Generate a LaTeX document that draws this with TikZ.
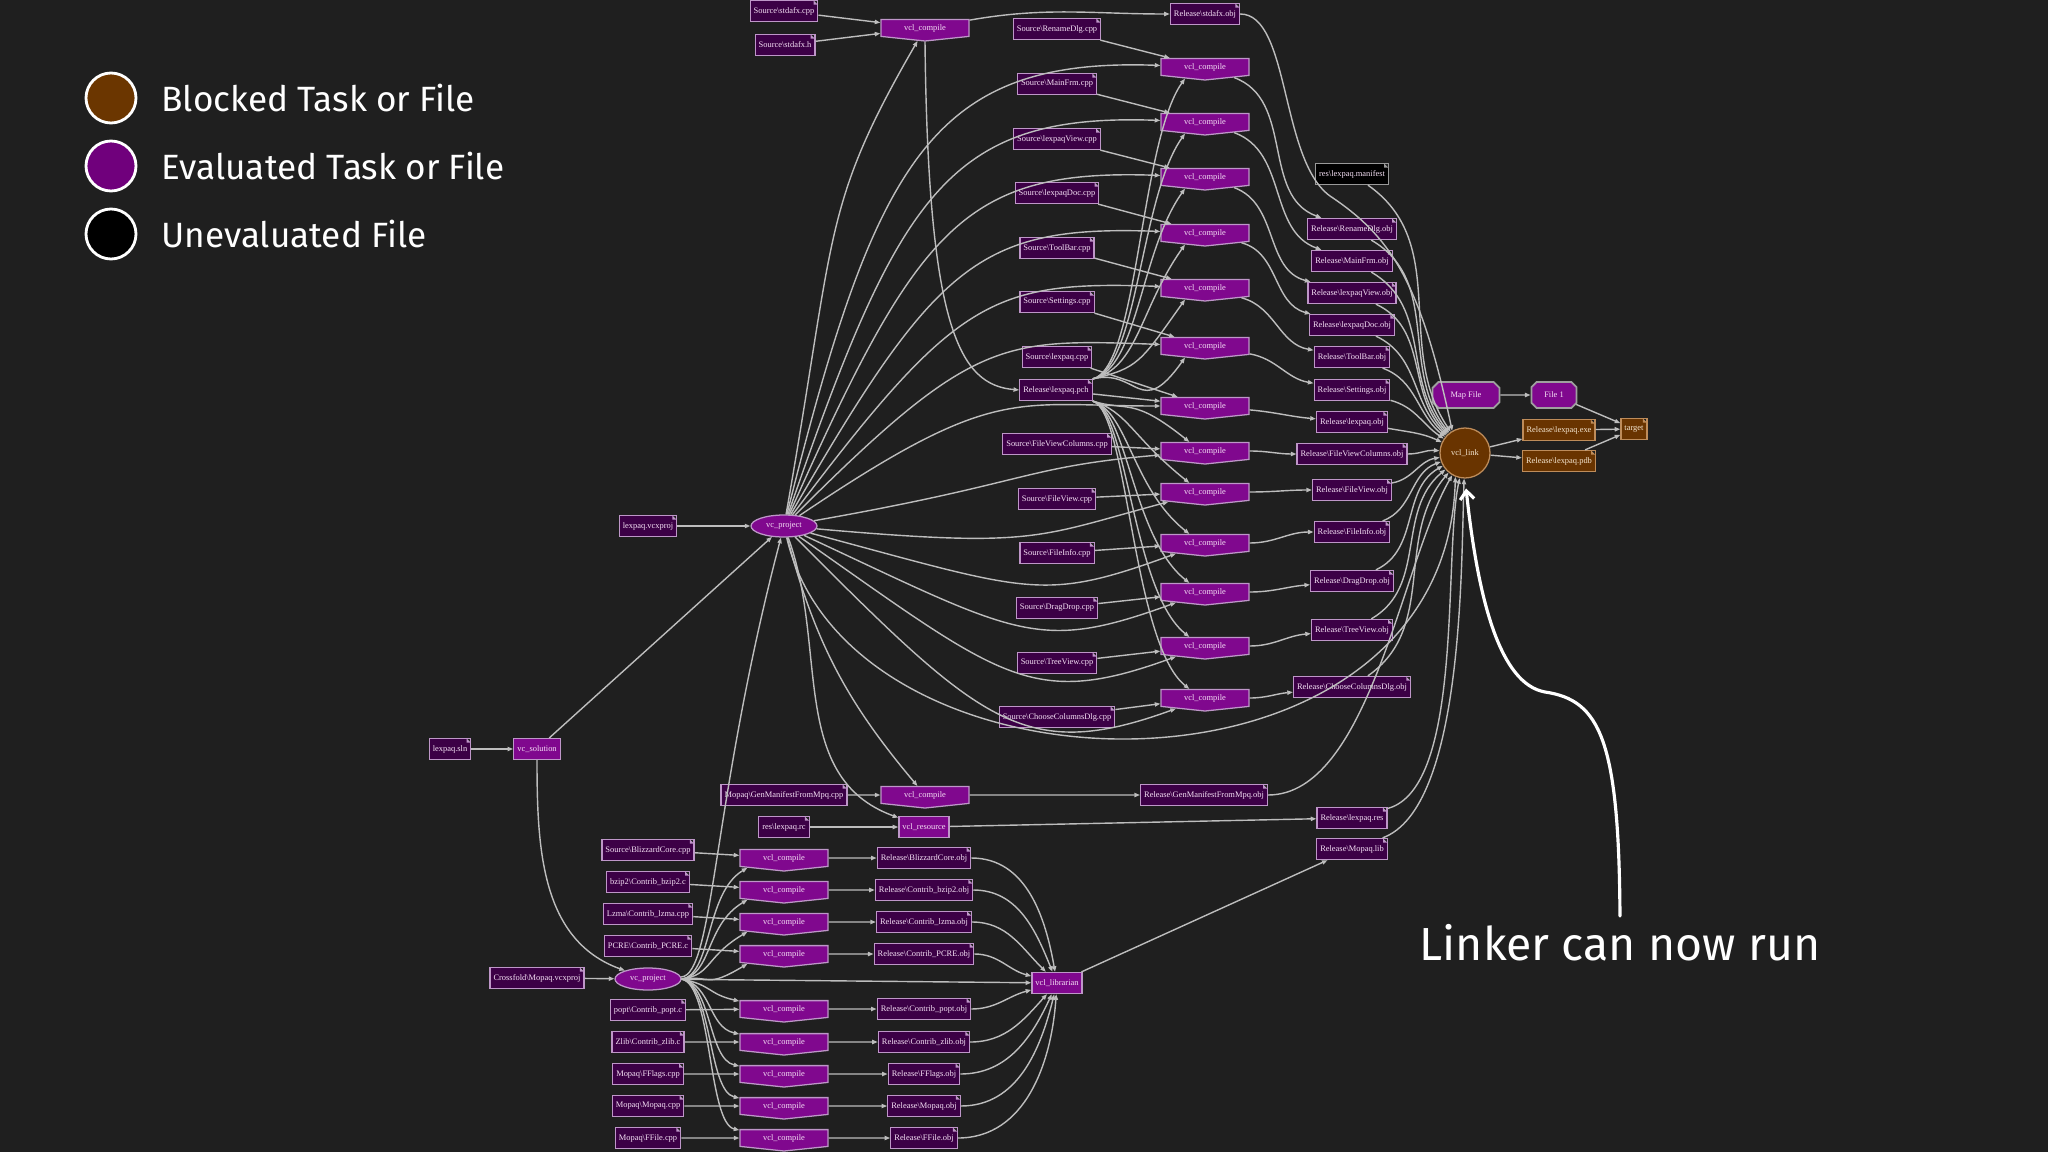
\documentclass[tikz,border=0pt]{standalone}
\usepackage{fontspec}
\setmainfont{Liberation Serif}
\newfontfamily\keyface{Fira Sans}
\usetikzlibrary{arrows.meta, positioning, shapes.geometric, shapes.symbols, shapes.misc}
\definecolor{Canvas}{HTML}{1F1F1F}
\definecolor{TaskFill}{HTML}{80088E}
\definecolor{FileFill}{HTML}{3C0046}
\definecolor{Rim}{HTML}{BE96C8}
\definecolor{Label}{HTML}{F5E0F5}
\definecolor{Blocked}{HTML}{693400}
\definecolor{BlockedRim}{HTML}{BE8C5A}
\definecolor{BlockedLabel}{HTML}{F5E6D0}
\definecolor{Wire}{HTML}{BDBDBD}
\definecolor{KeyBrown}{HTML}{6B3600}
\definecolor{KeyPurple}{HTML}{70007C}
\newcommand{\pathsep}{\textbackslash}
\newcommand{\graphfont}{\fontsize{12}{13}\selectfont}
\newcommand{\dogear}[1]{%
  \fill[Canvas] ([xshift=-6pt]path picture bounding box.north east) -- (path picture bounding box.north east) -- ([yshift=-6pt]path picture bounding box.north east) -- cycle;
  \fill[#1] ([xshift=-6pt]path picture bounding box.north east) -- ([yshift=-6pt]path picture bounding box.north east) -- ([shift={(-6pt,-6pt)}]path picture bounding box.north east) -- cycle;}

\begin{document}
\begin{tikzpicture}[x=0.05cm, y=-0.05cm,
  nodebase/.style={font=\graphfont, text=Label, line width=1.8pt, inner xsep=5pt, inner ysep=0pt, minimum height=1.05cm},
  artifact/.style={nodebase, rectangle, draw=Rim, fill=FileFill, path picture={\dogear{Rim}}},
  rawartifact/.style={artifact, fill=black, draw=gray!80, path picture={\dogear{gray!80}}},
  blockedartifact/.style={nodebase, rectangle, draw=BlockedRim, fill=Blocked, text=BlockedLabel, path picture={\dogear{BlockedRim}}},
  compiletask/.style={nodebase, shape=signal, signal to=south, signal pointer angle=168, draw=Rim, fill=TaskFill, minimum width=4.4cm, minimum height=0pt, inner ysep=6.5pt},
  plaintask/.style={nodebase, rectangle, draw=Rim, fill=TaskFill},
  projecttask/.style={nodebase, ellipse, draw=Rim, fill=TaskFill, minimum width=3.3cm, minimum height=1.1cm, inner xsep=1pt},
  octotask/.style={nodebase, chamfered rectangle, chamfered rectangle xsep=9pt, draw=gray!75, line width=2.6pt, fill=TaskFill, minimum height=1.3cm},
  linktask/.style={nodebase, circle, draw=BlockedRim, fill=Blocked, text=BlockedLabel, minimum size=2.5cm, inner sep=0pt},
  wire/.style={draw=Wire, line width=2pt, -{Triangle[length=8pt, width=6pt]}},
  keydot/.style={circle, draw=white, line width=4pt, minimum size=2.5cm, inner sep=0pt},
  keytext/.style={font=\keyface\fontsize{50}{56}\selectfont, text=white, inner sep=0pt, anchor=west},
  notetext/.style={font=\keyface\fontsize{66}{72}\selectfont, text=white, inner sep=4pt},
  notearrow/.style={draw=white, line width=4.5pt, line cap=round, -{Straight Barb[length=12pt, width=20pt]}}
]
\useasboundingbox (0,0) rectangle (2048,1152);
\fill[Canvas] (0,0) rectangle (2048,1152);

% legend
\node[keydot, fill=KeyBrown] (keyblocked) at (111,98) {};
\node[keydot, fill=KeyPurple] (keyeval) at (111,166) {};
\node[keydot, fill=black] (keyraw) at (111,234) {};
\node[keytext, right=1.2cm of keyblocked] (txtblocked) {Blocked Task or File};
\node[keytext, right=1.2cm of keyeval] (txteval) {Evaluated Task or File};
\node[keytext, right=1.2cm of keyraw] (txtraw) {Unevaluated File};

% precompiled header
\node[artifact] (stdcpp) at (784,11) {Source\pathsep{}stdafx.cpp};
\node[artifact] (stdh) at (785,45) {Source\pathsep{}stdafx.h};
\node[compiletask] (cmp0) at (925,28) {vcl\_compile};
\node[artifact] (stdobj) at (1205,14) {Release\pathsep{}stdafx.obj};
\node[artifact] (pch) at (1056,390) {Release\pathsep{}lexpaq.pch};

% lexpaq sources, compiles, objects
\foreach \i/\y/\stem in {1/29/RenameDlg, 2/84/MainFrm, 3/139/lexpaqView, 4/193/lexpaqDoc, 5/248/ToolBar, 6/302/Settings, 7/357/lexpaq, 8/444/FileViewColumns, 9/499/FileView, 10/553/FileInfo, 11/608/DragDrop, 12/663/TreeView, 13/717/ChooseColumnsDlg}
  \node[artifact] (src\i) at (1057,\y) {Source\pathsep{}\stem.cpp};
\foreach \i/\y in {1/67, 2/122, 3/177, 4/233, 5/288, 6/346, 7/406, 8/451, 9/492, 10/543, 11/592, 12/646, 13/698}
  \node[compiletask] (cmp\i) at (1205,\y) {vcl\_compile};
\foreach \i/\y/\stem in {1/229/RenameDlg, 2/261/MainFrm, 3/293/lexpaqView, 4/325/lexpaqDoc, 5/357/ToolBar, 6/390/Settings, 7/422/lexpaq, 8/454/FileViewColumns, 9/490/FileView, 10/532/FileInfo, 11/581/DragDrop, 12/630/TreeView, 13/687/ChooseColumnsDlg}
  \node[artifact] (obj\i) at (1352,\y) {Release\pathsep{}\stem.obj};
\node[rawartifact] (manifest) at (1352,174) {res\pathsep{}lexpaq.manifest};

% link and outputs
\node[linktask] (link) at (1465,453) {vcl\_link};
\node[octotask, minimum width=3.35cm] (mapfile) at (1466,395) {Map File};
\node[octotask, minimum width=2.25cm] (fileone) at (1554,395) {File 1};
\node[blockedartifact] (exe) at (1559,430) {Release\pathsep{}lexpaq.exe};
\node[blockedartifact] (pdb) at (1559,461) {Release\pathsep{}lexpaq.pdb};
\node[blockedartifact] (target) at (1634,429) {target};

% solution and projects
\node[artifact] (vcxproj) at (648,526) {lexpaq.vcxproj};
\node[projecttask] (projmain) at (784,526) {vc\_project};
\node[artifact] (sln) at (450,749) {lexpaq.sln};
\node[plaintask] (solution) at (537,749) {vc\_solution};
\node[projecttask] (projmopaq) at (648,979) {vc\_project};
\node[artifact] (mopaqproj) at (537,978) {Crossfold\pathsep{}Mopaq.vcxproj};

% manifest tool and resources
\node[artifact] (gencpp) at (784,795) {Mopaq\pathsep{}GenManifestFromMpq.cpp};
\node[compiletask] (cmpgen) at (925,795) {vcl\_compile};
\node[artifact] (genobj) at (1204,795) {Release\pathsep{}GenManifestFromMpq.obj};
\node[artifact] (rc) at (784,827) {res\pathsep{}lexpaq.rc};
\node[plaintask] (rescomp) at (924,827) {vcl\_resource};
\node[artifact] (resout) at (1352,818) {Release\pathsep{}lexpaq.res};
\node[artifact] (mopaqlib) at (1352,849) {Release\pathsep{}Mopaq.lib};
\node[plaintask] (librarian) at (1057,983) {vcl\_librarian};

% mopaq library rows
\foreach \i/\ys/\yc/\srcname/\objname in {
  1/850/858/Source\pathsep{}BlizzardCore.cpp/Release\pathsep{}BlizzardCore.obj,
  2/882/890/bzip2\pathsep{}Contrib\_bzip2.c/Release\pathsep{}Contrib\_bzip2.obj,
  3/914/922/Lzma\pathsep{}Contrib\_lzma.cpp/Release\pathsep{}Contrib\_lzma.obj,
  4/946/954/PCRE\pathsep{}Contrib\_PCRE.c/Release\pathsep{}Contrib\_PCRE.obj,
  5/1010/1009/popt\pathsep{}Contrib\_popt.c/Release\pathsep{}Contrib\_popt.obj,
  6/1042/1042/Zlib\pathsep{}Contrib\_zlib.c/Release\pathsep{}Contrib\_zlib.obj,
  7/1074/1074/Mopaq\pathsep{}FFlags.cpp/Release\pathsep{}FFlags.obj,
  8/1106/1106/Mopaq\pathsep{}Mopaq.cpp/Release\pathsep{}Mopaq.obj,
  9/1138/1138/Mopaq\pathsep{}FFile.cpp/Release\pathsep{}FFile.obj}{
  \node[artifact] (bsrc\i) at (648,\ys) {\srcname};
  \node[compiletask] (bcmp\i) at (784,\yc) {vcl\_compile};
  \node[artifact] (bobj\i) at (924,\yc) {\objname};
}

% annotation
\node[notetext] (linknote) at (1620,943) {Linker can now run};

% wiring: solution and projects
\draw[wire] (sln) -- (solution);
\draw[wire] (vcxproj) -- (projmain);
\draw[wire] (solution) -- (projmain);
\draw[wire] (solution) to[out=-90, in=160] (projmopaq);
\draw[wire] (mopaqproj) -- (projmopaq);
\draw[wire] (projmopaq) .. controls (714,975) and (712,800) .. (projmain);

% wiring: precompiled header
\draw[wire] (stdcpp) -- (cmp0);
\draw[wire] (stdh) -- (cmp0);
\draw[wire] (projmain) to[out=80, in=-120, out looseness=1.5] (cmp0);
\draw[wire] (cmp0) to[out=10, in=180] (stdobj);
\draw[wire] (cmp0.south) .. controls (928,330) and (960,385) .. (pch.west);

% wiring: lexpaq compiles
\foreach \i in {1,...,13}
  \draw[wire] (src\i) -- (cmp\i);
\foreach \i/\a/\b in {1/76/178, 2/71/178, 3/66/178, 4/60/178, 5/53/178, 6/45/178, 7/34/180, 8/10/185, 9/-5/195, 10/-15/200, 11/-25/200, 12/-35/200, 13/-45/200}
  \draw[wire] (projmain) to[out=\a, in=\b, out looseness=1.6] (cmp\i);
\foreach \i/\y in {1/67, 2/122, 3/177, 4/233, 5/288, 6/346}
  \draw[wire] (pch.north east) .. controls (1138,368) and (1140,\y+75) .. (cmp\i.-150);
\draw[wire] (pch) -- (cmp7);
\foreach \i/\y in {8/451, 9/492, 10/543, 11/592, 12/646, 13/698}
  \draw[wire] (pch.south east) .. controls (1128,412) and (1132,\y-55) .. (cmp\i.150);
\foreach \i/\a/\b in {1/-20/160, 2/-20/160, 3/-20/165, 4/-15/165, 5/-15/170, 6/-10/170, 7/-5/175, 8/0/180, 9/0/180, 10/0/180, 11/0/185, 12/0/185, 13/0/185}
  \draw[wire] (cmp\i) to[out=\a, in=\b] (obj\i);

% wiring: into the linker
\foreach \i/\a/\b in {1/-30/128, 2/-30/131, 3/-25/134, 4/-25/137, 5/-20/141, 6/-15/146, 7/-10/155, 8/0/175, 9/10/190, 10/20/200, 11/25/210, 12/30/220, 13/35/230}
  \draw[wire] (obj\i) to[out=\a, in=\b] (link);
\draw[wire] (manifest) to[out=-35, in=124] (link);
\draw[wire] (stdobj.east) .. controls (1290,14) and (1280,160) .. (1330,196) .. controls (1390,236) and (1420,280) .. (link.120);
\draw[wire] (projmain) .. controls (850,810) and (1445,820) .. (link.-112);
\draw[wire] (projmain) to[out=-75, in=130] (cmpgen);
\draw[wire] (projmain) to[out=-70, in=160] (rescomp);
\draw[wire] (gencpp) -- (cmpgen);
\draw[wire] (cmpgen) -- (genobj);
\draw[wire] (genobj) to[out=0, in=-120, looseness=0.7] (link);
\draw[wire] (rc) -- (rescomp);
\draw[wire] (rescomp) -- (resout);
\draw[wire] (resout) to[out=15, in=-102, looseness=0.6] (link);
\draw[wire] (mopaqlib) to[out=20, in=-92, looseness=0.6] (link);

% wiring: mopaq library
\foreach \i in {1,...,9}{
  \draw[wire] (bsrc\i) -- (bcmp\i);
  \draw[wire] (bcmp\i) -- (bobj\i);
}
\foreach \i/\y in {1/858, 2/890, 3/922, 4/954}
  \draw[wire] (projmopaq.east) .. controls (712,975) and (705,\y+35) .. (bcmp\i.-165);
\foreach \i/\y in {5/1009, 6/1042, 7/1074, 8/1106, 9/1138}
  \draw[wire] (projmopaq.east) .. controls (712,985) and (708,\y-15) .. (bcmp\i.170);
\draw[wire] (projmopaq) -- (librarian);
\foreach \i/\b in {1/100, 2/112, 3/135, 4/165, 5/195, 6/228, 7/245, 8/256, 9/266}
  \draw[wire] (bobj\i) to[out=0, in=\b] (librarian);
\draw[wire] (librarian) -- (mopaqlib);

% wiring: outputs
\draw[wire] (link) -- (exe);
\draw[wire] (link) -- (pdb);
\draw[wire] (exe) -- (target);
\draw[wire] (pdb) -- (target);
\draw[wire] (mapfile) -- (fileone);
\draw[wire] (fileone) -- (target);

% callout arrow
\draw[notearrow, shorten <=8pt, shorten >=14pt] (linknote.north) .. controls (1619,740) and (1600,700) .. (1545,692) .. controls (1500,684) and (1478,600) .. (link.south);
\end{tikzpicture}
\end{document}
